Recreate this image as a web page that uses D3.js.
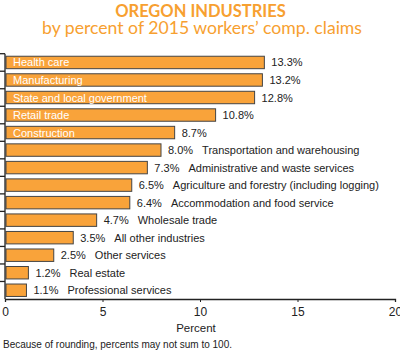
<!DOCTYPE html>
<html><head><meta charset="utf-8">
<script src="https://cdn.jsdelivr.net/npm/d3@7"></script>
<style>body{margin:0;background:#fff}svg{display:block}</style>
</head><body>
<svg id="c" width="400" height="355"></svg>
<script>
const categories = ["Health care","Manufacturing","State and local government","Retail trade","Construction","Transportation and warehousing","Administrative and waste services","Agriculture and forestry (including logging)","Accommodation and food service","Wholesale trade","All other industries","Other services","Real estate","Professional services"];
const values = [13.3,13.2,12.8,10.8,8.7,8.0,7.3,6.5,6.4,4.7,3.5,2.5,1.2,1.1];
const insideLabel = [true,true,true,true,true,false,false,false,false,false,false,false,false,false];
const xTicks = [0,5,10,15,20];
const title = "OREGON INDUSTRIES";
const subtitle = "by percent of 2015 workers\u2019 comp. claims";
const xTitle = "Percent";
const footnote = "Because of rounding, percents may not sum to 100.";

const svg = d3.select("#c");
const orange = "#F9A33A";
const font = "'Liberation Sans', Arial, sans-serif";
const tfont = "Lato, 'Open Sans', sans-serif";

const x = d3.scaleLinear().domain([0,20]).range([5,395]);
const y = d3.scaleBand().domain(categories).range([53.7,299]).paddingInner(0.29).paddingOuter(0.145);
const data = categories.map((c,i)=>({c, v: values[i], inside: insideLabel[i]}));

function fit(sel, w){ const n = sel.node(); const fs = parseFloat(sel.attr("font-size")); const l = n.getComputedTextLength(); sel.attr("font-size", fs*w/l); }
svg.append("text").attr("x",200.5).attr("y",16.5).attr("text-anchor","middle")
  .attr("font-family",tfont).attr("font-weight","bold").attr("font-size",16.5).attr("fill","#F7A030").text(title);
const t2 = svg.append("text").attr("x",202).attr("y",33.5).attr("text-anchor","middle")
  .attr("font-family",tfont).attr("font-size",16).attr("fill","#F7A030").text(subtitle);
fit(t2,320);

// bars
svg.append("g").selectAll("rect").data(data).join("rect")
  .attr("x", x(0)+1).attr("y", d=>y(d.c)).attr("width", d=>x(d.v)-x(0)-1).attr("height", y.bandwidth())
  .attr("fill", orange).attr("stroke","#444").attr("stroke-width",1);

// inside labels
svg.append("g").selectAll("text").data(data.filter(d=>d.inside)).join("text")
  .attr("x", 13).attr("y", d=>y(d.c)+y.bandwidth()/2+4).attr("font-family",font).attr("font-size",11)
  .attr("fill","#fff").text(d=>d.c);

// outside labels
const ol = svg.append("g").selectAll("text").data(data).join("text")
  .attr("x", d=>x(d.v)+7).attr("y", d=>y(d.c)+y.bandwidth()/2+4).attr("font-family",font).attr("font-size",11)
  .attr("fill","#222");
ol.append("tspan").text(d=>d3.format(".1f")(d.v)+"%");
ol.filter(d=>!d.inside).append("tspan").attr("dx",9).text(d=>d.c);

// left axis with ticks at band boundaries
const step = y.step();
const bounds = categories.map(c=>y(c)-y.paddingInner()*step/2);
svg.append("line").attr("x1",5).attr("x2",5).attr("y1",bounds[0]).attr("y2",299).attr("stroke","#222").attr("stroke-width",1.3);
svg.append("g").selectAll("line").data(bounds).join("line")
  .attr("x1",0).attr("x2",5).attr("y1",d=>d).attr("y2",d=>d).attr("stroke","#222").attr("stroke-width",1.3);

// bottom axis
const ax = svg.append("g").attr("transform","translate(0,299)")
  .call(d3.axisBottom(x).tickValues(xTicks).tickSize(3).tickPadding(5).tickFormat(d3.format("d")));
ax.select(".domain").attr("stroke","#222").attr("stroke-width",1.3);
ax.selectAll(".tick line").attr("stroke","#222");
ax.selectAll("text").attr("font-family",font).attr("font-size",12).attr("fill","#222");

svg.append("text").attr("x",196).attr("y",332).attr("text-anchor","middle").attr("font-family",font)
  .attr("font-size",11.5).attr("fill","#222").text(xTitle);
svg.append("text").attr("x",3).attr("y",348).attr("font-family",font)
  .attr("font-size",10).attr("fill","#222").text(footnote);
</script>
</body></html>
